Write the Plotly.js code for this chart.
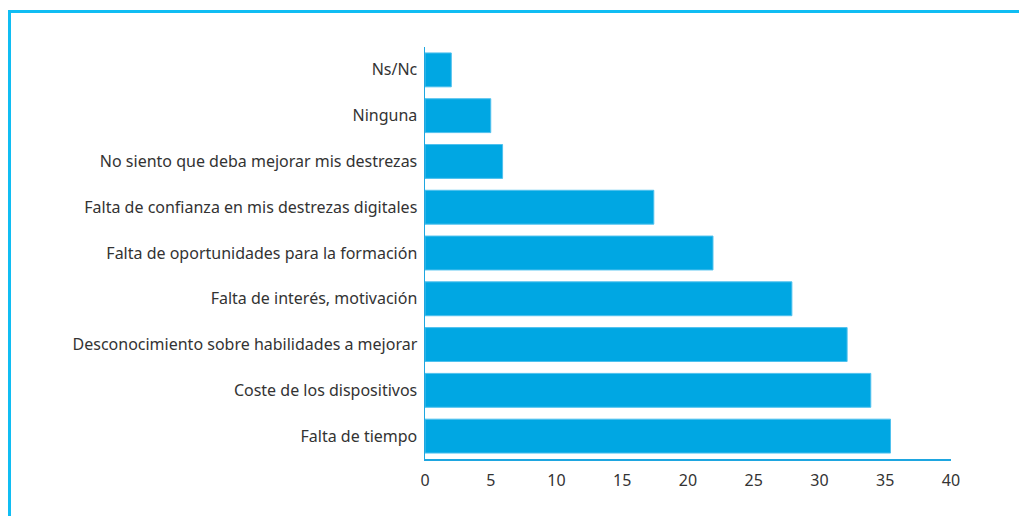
<!DOCTYPE html>
<html>
<head>
<meta charset="utf-8">
<script src="https://cdn.plot.ly/plotly-3.0.1.min.js"></script>
<style>
  html, body { margin: 0; padding: 0; background: #fff; }
  #frame { position: absolute; left: 8px; top: 10px; width: 1011px; height: 506px;
           border-top: 3px solid #10bdf3; border-left: 3px solid #10bdf3; box-sizing: border-box; }
  #chart { position: absolute; left: 0; top: 0; width: 1019px; height: 516px; }
</style>
</head>
<body>
<div id="frame"></div>
<div id="chart"></div>
<script>
const categories = [
  "Ns/Nc",
  "Ninguna",
  "No siento que deba mejorar mis destrezas",
  "Falta de confianza en mis destrezas digitales",
  "Falta de oportunidades para la formación",
  "Falta de interés, motivación",
  "Desconocimiento sobre habilidades a mejorar",
  "Coste de los dispositivos",
  "Falta de tiempo"
];
const values = [2.0, 5.0, 5.9, 17.4, 21.9, 27.9, 32.1, 33.9, 35.4];
const xTicks = [0, 5, 10, 15, 20, 25, 30, 35, 40];

const trace = {
  type: 'bar',
  orientation: 'h',
  y: categories,
  x: values,
  marker: { color: '#00a7e3', line: { color: '#4fc1ee', width: 1 } },
  hoverinfo: 'skip'
};

const layout = {
  width: 1019,
  height: 516,
  margin: { l: 425, r: 68, t: 47, b: 57 },
  paper_bgcolor: 'rgba(0,0,0,0)',
  plot_bgcolor: 'rgba(0,0,0,0)',
  bargap: 0.26,
  showlegend: false,
  font: { family: 'Noto Sans, sans-serif', size: 16, color: '#333333' },
  xaxis: {
    range: [0, 40],
    tickvals: xTicks,
    ticktext: xTicks.map(String),
    showgrid: false,
    zeroline: false,
    showline: true,
    linecolor: '#1ea6e0',
    linewidth: 1.5,
    ticks: '',
    ticklabelstandoff: 6,
    tickfont: { size: 16, color: '#333333' }
  },
  yaxis: {
    type: 'category',
    autorange: 'reversed',
    showgrid: false,
    zeroline: false,
    showline: true,
    linecolor: '#1ea6e0',
    linewidth: 1.5,
    ticks: '',
    ticklabelstandoff: 3,
    tickfont: { size: 16, color: '#333333' }
  }
};

Plotly.newPlot('chart', [trace], layout, { displayModeBar: false, staticPlot: true });
</script>
</body>
</html>
